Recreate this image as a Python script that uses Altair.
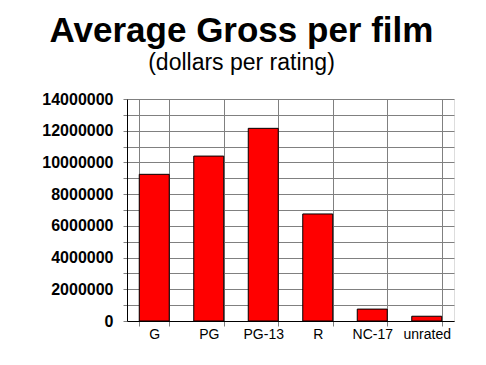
import altair as alt
import pandas as pd

ratings = ["G", "PG", "PG-13", "R", "NC-17", "unrated"]
gross = [9250000, 10400000, 12150000, 6750000, 750000, 300000]

df = pd.DataFrame({"rating": ratings, "gross": gross})

FONT = "Liberation Sans"

y_vals = list(range(0, 14000001, 1000000))

chart = alt.Chart(df).mark_bar(
    color="#ff0000", stroke="black", strokeWidth=1
).encode(
    x=alt.X("rating:N", sort=ratings, title=None,
            scale=alt.Scale(paddingInner=0.45, paddingOuter=0.225),
            axis=alt.Axis(tickBand="extent", grid=True, gridColor="#808080",
                          gridOpacity=1, domainColor="black", tickColor="#808080",
                          tickSize=5, labelAngle=0, labelFont=FONT,
                          labelFontSize=14, labelColor="black", labelPadding=1)),
    y=alt.Y("gross:Q", title=None,
            scale=alt.Scale(domain=[0, 14000000], nice=False),
            axis=alt.Axis(values=y_vals, format="d",
                          labelExpr="datum.value % 2000000 == 0 ? datum.label : ''",
                          grid=True, gridColor="#808080", gridOpacity=1,
                          domainColor="black", tickColor="#808080", tickSize=4,
                          labelFont=FONT, labelFontSize=16, labelFontWeight="bold",
                          labelColor="black", labelPadding=10)),
).properties(
    width=327,
    height=222,
    title=alt.TitleParams(
        text="Average Gross per film",
        subtitle="(dollars per rating)",
        font=FONT, fontSize=35, fontWeight="bold", color="black",
        subtitleFont=FONT, subtitleFontSize=23, subtitleColor="black",
        subtitlePadding=3, anchor="middle", dx=-49, offset=16,
    ),
    autosize=alt.AutoSizeParams(type="none"),
    padding={"left": 119, "top": 91, "right": 24, "bottom": 36},
).configure_view(
    stroke="black", strokeWidth=1
).configure(background="white")

chart.save("out.html", embed_options={"renderer": "svg", "actions": False})
